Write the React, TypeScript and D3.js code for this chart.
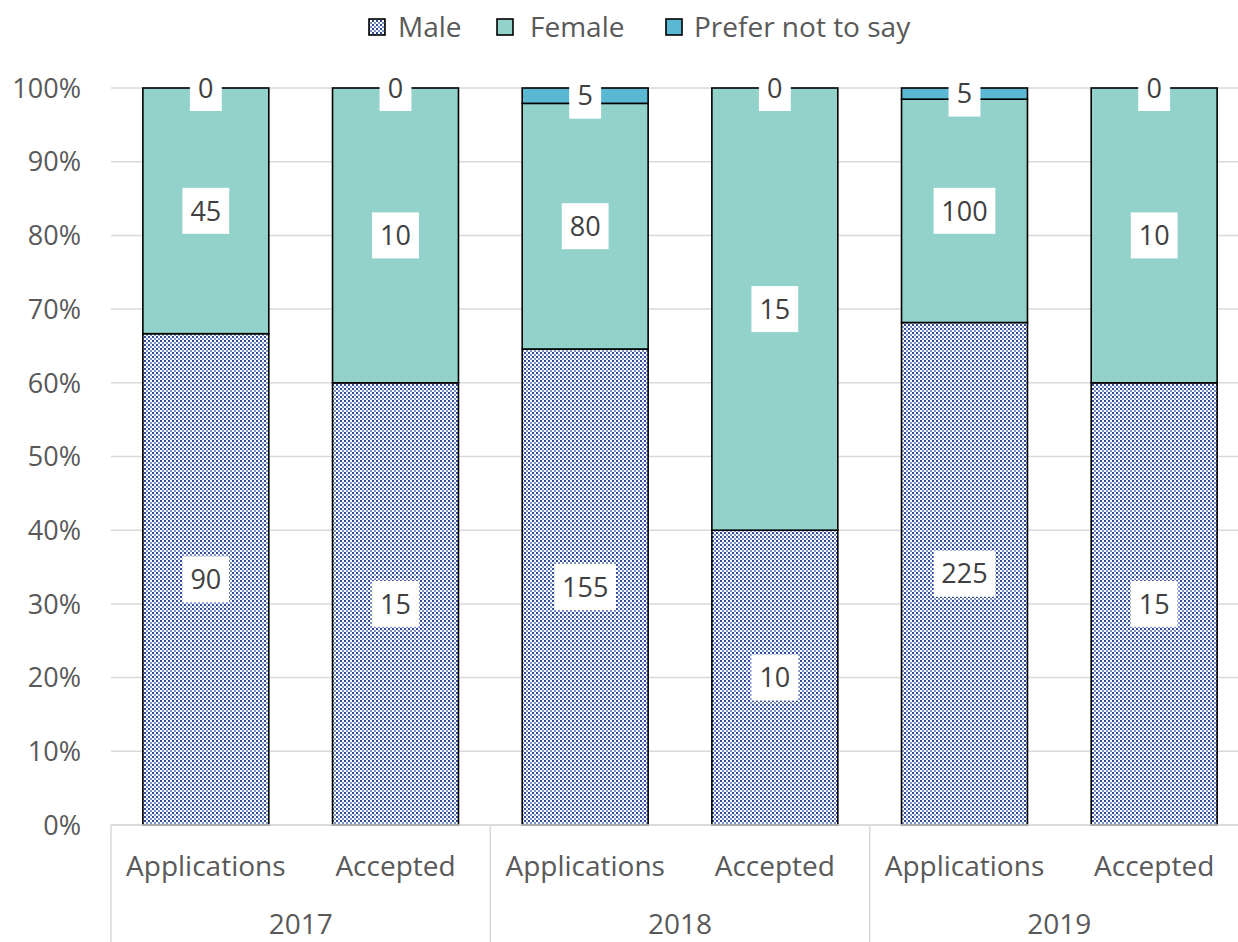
import React from "react";
import * as d3 from "d3";

const years = ["2017", "2018", "2019"];
const stages = ["Applications", "Accepted"];
const categories = ["2017|Applications", "2017|Accepted", "2018|Applications", "2018|Accepted", "2019|Applications", "2019|Accepted"];
const male = [90, 15, 155, 10, 225, 15];
const female = [45, 10, 80, 15, 100, 10];
const preferNot = [0, 0, 5, 0, 5, 0];
const seriesNames = ["Male", "Female", "Prefer not to say"];
const yTicks = [0, 0.1, 0.2, 0.3, 0.4, 0.5, 0.6, 0.7, 0.8, 0.9, 1.0];

const W = 1238;
const H = 942;
const FONT = "'Open Sans', 'Liberation Sans', sans-serif";

export default function App() {
  const x = d3
    .scaleBand<string>()
    .domain(categories)
    .range([111, 1249])
    .paddingInner(0.336)
    .paddingOuter(0.168);
  const y = d3.scaleLinear().domain([0, 1]).range([825, 88]);

  const fills = ["url(#malePat)", "#93D2CA", "#5BB8D2"];
  const seriesVals = [male, female, preferNot];

  const rows = categories.map((c, i) => {
    const total = male[i] + female[i] + preferNot[i];
    let cum = 0;
    const segs = seriesVals.map((arr, s) => {
      const v = arr[i];
      const p0 = cum / total;
      cum += v;
      const p1 = cum / total;
      return { s, v, p0, p1 };
    });
    return { c, segs };
  });

  const labelW = (t: string) => t.length * 14.9 + 17;

  const legendItems = [
    { name: seriesNames[0], sx: 369, tx: 398 },
    { name: seriesNames[1], sx: 497, tx: 530 },
    { name: seriesNames[2], sx: 666, tx: 694 },
  ];

  return (
    <div style={{ width: W, height: H, overflow: "hidden", position: "absolute", left: 0, top: 0 }}>
      <svg width={W} height={H} style={{ display: "block", background: "#fff" }}>
        <defs>
          <pattern id="malePat" patternUnits="userSpaceOnUse" width={4} height={4}>
            <rect width={4} height={4} fill="#ffffff" />
            <rect x={0} y={0} width={2} height={2} fill="#2E4D96" />
            <rect x={2} y={2} width={2} height={2} fill="#7990C6" />
          </pattern>
        </defs>
        <rect width={W} height={H} fill="#fff" />

        {yTicks.map((t) => (
          <line key={"g" + t} x1={111} x2={W} y1={y(t)} y2={y(t)} stroke="#D9D9D9" strokeWidth={1.5} />
        ))}
        {yTicks.map((t) => (
          <text
            key={"t" + t}
            x={81}
            y={y(t)}
            dy="0.36em"
            textAnchor="end"
            fontFamily={FONT}
            fontSize={27}
            fill="#595959"
          >
            {Math.round(t * 100) + "%"}
          </text>
        ))}

        {rows.map((r) =>
          r.segs.map((sg) =>
            sg.v > 0 ? (
              <rect
                key={r.c + sg.s}
                x={x(r.c)!}
                width={x.bandwidth()}
                y={y(sg.p1)}
                height={y(sg.p0) - y(sg.p1)}
                fill={fills[sg.s]}
                stroke="#000"
                strokeWidth={1.6}
              />
            ) : null
          )
        )}

        <line x1={111} x2={W} y1={825} y2={825} stroke="#D9D9D9" strokeWidth={1.5} />
        {[0, 1, 2, 3].map((k) => {
          const xx = 111 + k * 2 * x.step();
          return <line key={"sep" + k} x1={xx} x2={xx} y1={825} y2={H} stroke="#D9D9D9" strokeWidth={1.5} />;
        })}
        {categories.map((c, i) => (
          <text
            key={"cl" + c}
            x={x(c)! + x.bandwidth() / 2}
            y={876}
            textAnchor="middle"
            fontFamily={FONT}
            fontSize={28}
            fill="#595959"
          >
            {stages[i % 2]}
          </text>
        ))}
        {years.map((yr, k) => (
          <text
            key={"yr" + yr}
            x={111 + (k * 2 + 1) * x.step()}
            y={934}
            textAnchor="middle"
            fontFamily={FONT}
            fontSize={28}
            fill="#595959"
          >
            {yr}
          </text>
        ))}

        {rows.map((r) =>
          r.segs.map((sg) => {
            const cx = x(r.c)! + x.bandwidth() / 2;
            const cy = y((sg.p0 + sg.p1) / 2);
            const t = String(sg.v);
            const w = labelW(t);
            return (
              <g key={"l" + r.c + sg.s}>
                <rect x={cx - w / 2} y={cy - 23} width={w} height={46} fill="#fff" />
                <text
                  x={cx}
                  y={cy}
                  dy="0.36em"
                  textAnchor="middle"
                  fontFamily={FONT}
                  fontSize={27}
                  fill="#404040"
                >
                  {t}
                </text>
              </g>
            );
          })
        )}

        {legendItems.map((it, i) => (
          <g key={"lg" + i}>
            <rect x={it.sx} y={19} width={16} height={16} fill={fills[i]} stroke="#000" strokeWidth={1.6} />
            <text x={it.tx} y={27} dy="0.36em" fontFamily={FONT} fontSize={28} fill="#595959">
              {it.name}
            </text>
          </g>
        ))}
      </svg>
    </div>
  );
}
